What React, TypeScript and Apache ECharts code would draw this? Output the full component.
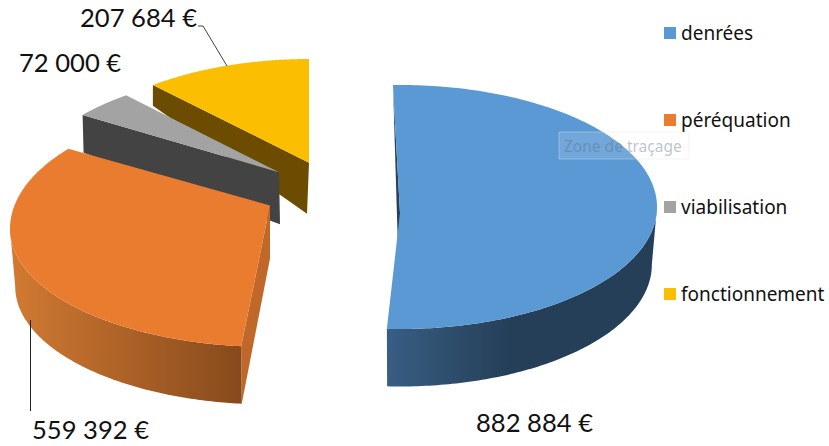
import React, { useEffect, useRef } from "react";
import * as echarts from "echarts";

const categories = ["denrées", "péréquation", "viabilisation", "fonctionnement"];
const amounts = [882884, 559392, 72000, 207684];

const topColors = ["#5a99d4", "#ea7c30", "#a3a3a3", "#fbbe00"];
const radialColors = ["#24405a", "#c0682a", "#434343", "#6b4c00"];
const rimStops = [
  [[0, "#385e84"], [0.45, "#253f58"], [1, "#253f58"]],
  [[0, "#d27a33"], [1, "#874a1c"]],
  [[0, "#434343"], [1, "#434343"]],
  [[0, "#6b4c00"], [1, "#6b4c00"]],
];
// Exploded placement of each slice and its perspective
const views = [
  { ex: 400, ey: 207, rx: 257, ry: 122, ryBack: 122, a: -0.05, turnStart: -1.5, turnEnd: -1.5, shrink: 0.98, apexDepth: 52, apexDx: -1.5, z: 5 },
  { ex: 270, ey: 229, rx: 260, ry: 118, ryBack: 127, a: 0.185, turnStart: 0.7, turnEnd: -1.2, shrink: 0.98, apexDepth: 53, apexDx: 0, z: 4 },
  { ex: 279, ey: 196, rx: 258, ry: 125, ryBack: 125, a: 0.19, turnStart: 0, turnEnd: 0, shrink: 0.995, apexDepth: 52, apexDx: 1, z: 3 },
  { ex: 309, ey: 187, rx: 258, ry: 128, ryBack: 128, a: 0.19, turnStart: -1, turnEnd: 0, shrink: 1, apexDepth: 51, apexDx: -2, z: 2 },
];

const total = amounts.reduce((s, x) => s + x, 0);
const fmt = (n: number) => String(n).replace(/\B(?=(\d{3})+$)/g, " ") + " €";
const rad = (d: number) => (d * Math.PI) / 180;

function makeRender(index: number) {
  const view = views[index];
  const before = amounts.slice(0, index).reduce((s, x) => s + x, 0);
  return (_params: any, api: any) => {
    const value = api.value(0);
    const start = (before / total) * 360 + view.turnStart;
    const end = ((before + value) / total) * 360 + view.turnEnd;
    const { ex, ey, rx, ry, ryBack, a, shrink, apexDepth, apexDx } = view;
    const top = (deg: number) => {
      const u = Math.sin(rad(deg));
      const v = Math.cos(rad(deg));
      const d = 1 + a * v;
      const vp = (v + a) / d;
      return [ex + (rx * u * Math.sqrt(1 - a * a)) / d, ey - (vp > 0 ? ryBack : ry) * vp];
    };
    const low = (deg: number) => {
      const p = top(deg);
      const v = Math.max(0, Math.cos(rad(deg)));
      return [ex + (p[0] - ex) * shrink, p[1] + Math.max(2, 57.5 - 72 * v * v)];
    };
    const arc: number[] = [];
    for (let i = 0; i <= 200; i++) arc.push(start + ((end - start) * i) / 200);
    // Visible wall: from the widest point of the arc to its front end, so that
    // the silhouette closes with a straight edge
    let widest = 0;
    arc.forEach((deg, i) => {
      if (Math.abs(top(deg)[0] - ex) > Math.abs(top(arc[widest])[0] - ex)) widest = i;
    });
    const frontFirst = top(arc[0])[1] > top(arc[200])[1];
    const wall = frontFirst ? arc.slice(0, widest + 1) : arc.slice(widest);
    const apex = [ex, ey - ryBack * a];
    const apexLow = [ex + apexDx, apex[1] + apexDepth];
    const gradient = new echarts.graphic.LinearGradient(
      0, 0, 1, 0,
      rimStops[index].map((s) => ({ offset: s[0] as number, color: s[1] as string })),
    );
    return {
      type: "group",
      children: [
        {
          type: "polygon",
          shape: { points: [apex, top(start), low(start), apexLow] },
          style: { fill: radialColors[index] },
        },
        {
          type: "polygon",
          shape: { points: [...wall.map(top), ...wall.slice().reverse().map(low)] },
          style: { fill: gradient },
        },
        {
          type: "polygon",
          shape: { points: [apex, ...arc.map(top)] },
          style: { fill: topColors[index] },
        },
      ],
    };
  };
}

const LABEL_FONT = "Lato";
const LEGEND_FONT = "Noto Sans";

export default function App() {
  const ref = useRef<HTMLDivElement>(null);
  useEffect(() => {
    const chart = echarts.init(ref.current!, undefined, { renderer: "svg" });
    const valueLabel = (i: number, x: number, y: number) => ({
      type: "text",
      x,
      y,
      z: 20,
      style: {
        text: fmt(amounts[i]),
        font: `25.6px ${LABEL_FONT}`,
        fill: "#111111",
        textVerticalAlign: "middle",
      },
    });
    chart.setOption({
      animation: false,
      backgroundColor: "#ffffff",
      legend: {
        orient: "vertical",
        left: 664,
        top: 23,
        padding: 0,
        itemWidth: 12,
        itemHeight: 12,
        itemGap: 67,
        selectedMode: false,
        icon: "rect",
        data: categories,
        textStyle: { fontFamily: LEGEND_FONT, fontSize: 19, color: "#111111", lineHeight: 20 },
      },
      series: categories.map((name, i) => ({
        type: "custom",
        name,
        coordinateSystem: "none",
        silent: true,
        z: views[i].z,
        itemStyle: { color: topColors[i] },
        data: [[amounts[i]]],
        renderItem: makeRender(i),
      })),
      graphic: [
        valueLabel(3, 80, 17),
        valueLabel(2, 19, 62),
        valueLabel(1, 32, 429),
        valueLabel(0, 476, 422),
        {
          type: "polyline",
          z: 20,
          shape: { points: [[198, 26], [203, 26], [227, 66]] },
          style: { stroke: "#444444", lineWidth: 1, fill: "none" },
        },
        {
          type: "line",
          z: 20,
          shape: { x1: 30.5, y1: 320, x2: 30.5, y2: 411 },
          style: { stroke: "#222222", lineWidth: 1 },
        },
        {
          type: "rect",
          z: 20,
          shape: { x: 559, y: 132, width: 130, height: 27 },
          style: { fill: "rgba(255,255,255,0.14)", stroke: "rgba(225,225,225,0.4)", lineWidth: 1 },
        },
        {
          type: "text",
          x: 564,
          y: 146,
          z: 21,
          style: {
            text: "Zone de traçage",
            font: `15.5px ${LEGEND_FONT}`,
            fill: "rgba(95,110,130,0.42)",
            textVerticalAlign: "middle",
          },
        },
      ],
    });
    return () => chart.dispose();
  }, []);
  return (
    <div
      ref={ref}
      style={{ position: "absolute", left: 0, top: 0, width: 829, height: 446 }}
    />
  );
}
